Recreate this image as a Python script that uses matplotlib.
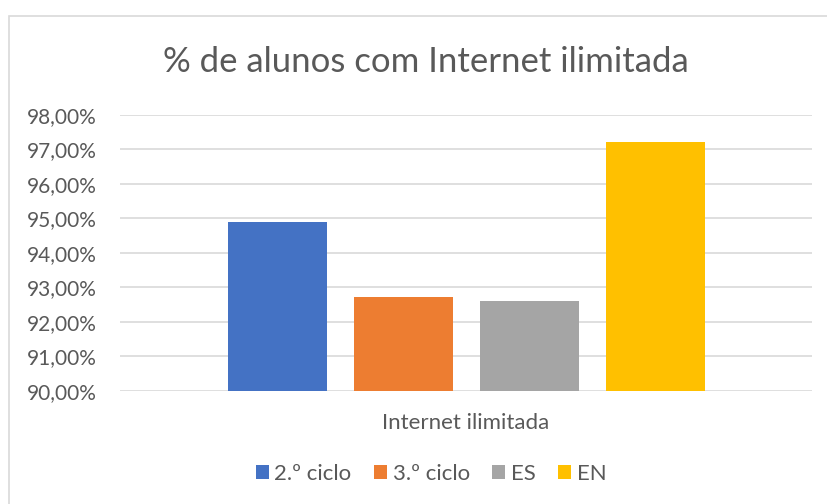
import matplotlib
matplotlib.use("Agg")
import matplotlib.pyplot as plt
from matplotlib.patches import Rectangle, Patch
from matplotlib.ticker import FuncFormatter

series = ["2.º ciclo", "3.º ciclo", "ES", "EN"]
values = [94.89, 92.72, 92.61, 97.21]
category = "Internet ilimitada"
title = "% de alunos com Internet ilimitada"
colors = ["#4472C4", "#ED7D31", "#A5A5A5", "#FFC000"]

plt.rcParams['font.family'] = ['Lato', 'DejaVu Sans']

W, H = 827, 504
fig = plt.figure(figsize=(W / 100, H / 100), dpi=100)
fig.patch.set_facecolor("white")

# chart border
fig.patches.append(Rectangle((9 / W, -0.1), 1.2, (H - 16) / H + 0.1,
                             transform=fig.transFigure, fill=False,
                             edgecolor="#d9d9d9", linewidth=1.2))

ax = fig.add_axes([120 / W, (H - 391) / H, (812 - 120) / W, (391 - 114.7) / H])
n = len(series)
offsets = [i - (n - 1) / 2 for i in range(n)]
for off, v, c, s in zip(offsets, values, colors, series):
    ax.bar(off, v - 90, bottom=90, width=99 / 126, color=c, label=s, zorder=3)

ax.set_ylim(90, 98)
ax.set_xlim(-692 / 126 / 2, 692 / 126 / 2)
ax.set_yticks(range(90, 99))
ax.yaxis.set_major_formatter(FuncFormatter(lambda y, p: f"{y:.2f}%".replace(".", ",")))
ax.grid(axis="y", color="#d9d9d9", linewidth=1.2, zorder=0)
ax.set_xticks([0])
ax.set_xticklabels([category])
ax.tick_params(axis="x", length=0, pad=15.5, labelsize=16, labelcolor="#595959")
ax.tick_params(axis="y", length=0, pad=16.5, labelsize=15, labelcolor="#595959")
for sp in ax.spines.values():
    sp.set_visible(False)

fig.text(425.5 / W, 1 - 62 / H, title, ha="center", va="center",
         fontsize=25, color="#595959")

handles = [Patch(facecolor=c, label=s) for c, s in zip(colors, series)]
fig.legend(handles=handles, loc="center", bbox_to_anchor=(431 / W, 1 - 474 / H),
           ncol=4, frameon=False, fontsize=16, labelcolor="#595959",
           handlelength=0.6, handleheight=0.6, handletextpad=0.25,
           columnspacing=1.0, borderaxespad=0)

fig.savefig("out.png", dpi=100)
